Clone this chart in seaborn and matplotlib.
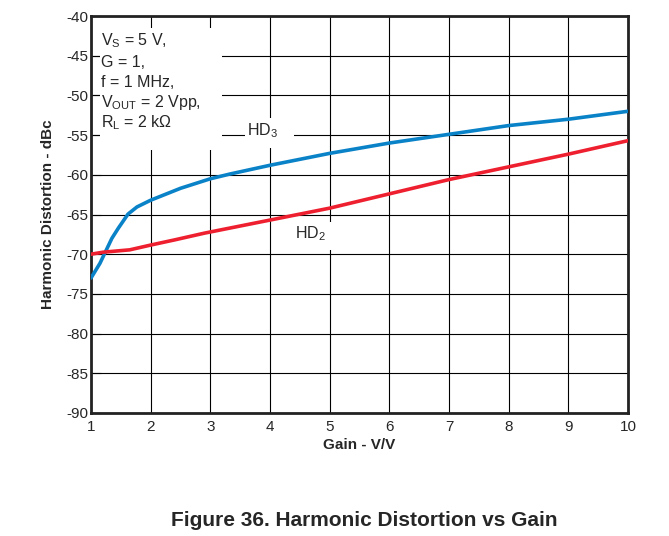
import matplotlib
matplotlib.use("Agg")
import matplotlib.pyplot as plt
import matplotlib.patches as mpatches
import seaborn as sns
import pandas as pd

# ---- data ----
gain_hd3 = [1.0, 1.15, 1.35, 1.46, 1.62, 1.77, 2.0, 2.5, 3.0, 3.33, 4.0, 5.0, 6.0, 7.0, 8.0, 9.0, 10.0]
hd3 = [-73.0, -71.15, -68.0, -66.7, -64.95, -64.05, -63.2, -61.7, -60.5, -59.9, -58.8, -57.3, -56.0, -54.9, -53.8, -53.0, -52.0]
gain_hd2 = [1.0, 1.2, 1.65, 2.0, 2.4, 2.9, 4.0, 5.0, 6.0, 7.0, 8.0, 9.0, 10.0]
hd2 = [-70.0, -69.75, -69.45, -68.85, -68.2, -67.35, -65.7, -64.2, -62.4, -60.6, -59.0, -57.4, -55.7]
x_ticks = [1, 2, 3, 4, 5, 6, 7, 8, 9, 10]
y_ticks = [-90, -85, -80, -75, -70, -65, -60, -55, -50, -45, -40]
cond_lines = [r"V$_{\mathregular{S}}$ = 5 V,", "G = 1,", "f = 1 MHz,",
              r"V$_{\mathregular{OUT}}$ = 2 Vpp,", r"R$_{\mathregular{L}}$ = 2 k$\mathregular{\Omega}$"]

sns.set_theme(style="white")
plt.rcParams['font.family'] = ['Liberation Sans', 'DejaVu Sans']
plt.rcParams['mathtext.fontset'] = 'custom'
plt.rcParams['mathtext.rm'] = 'Liberation Sans'
plt.rcParams['axes.unicode_minus'] = False

W, H = 669, 536
fig = plt.figure(figsize=(W / 100, H / 100), dpi=100)
x0, x1, y0, y1 = 91, 628, 16, 413
ax = fig.add_axes([x0 / W, 1 - y1 / H, (x1 - x0) / W, (y1 - y0) / H])

df3 = pd.DataFrame({"gain": gain_hd3, "val": hd3})
df2 = pd.DataFrame({"gain": gain_hd2, "val": hd2})
sns.lineplot(data=df3, x="gain", y="val", ax=ax, color="#0A82C8", lw=2.6, zorder=3)
sns.lineplot(data=df2, x="gain", y="val", ax=ax, color="#EE2030", lw=2.6, zorder=3)

ax.set_xlim(1, 10)
ax.set_ylim(-90, -40)
ax.set_xticks(x_ticks)
ax.set_yticks(y_ticks)
ax.set_xticklabels([str(t) for t in x_ticks], fontsize=11)
ax.set_yticklabels([str(t) for t in y_ticks], fontsize=11)
ax.grid(True, color="black", lw=0.8, zorder=0.5)
ax.set_axisbelow(True)
ax.tick_params(axis="y", direction="in", length=7, width=0.8, color="black", pad=2, left=True)
ax.tick_params(axis="x", length=0, pad=5)
for s in ax.spines.values():
    s.set_color("#222222")
    s.set_linewidth(2.0)

ax.set_xlabel("Gain - V/V", fontsize=11, fontweight="bold", labelpad=3)
ax.set_ylabel("Harmonic Distortion - dBc", fontsize=11, fontweight="bold", labelpad=8)


def px2ax(px, py):
    return (px - x0) / (x1 - x0), (y1 - py) / (y1 - y0)


# white box behind condition text
bx0, by0 = px2ax(100, 150)
bx1, by1 = px2ax(222, 28)
ax.add_patch(mpatches.Rectangle((bx0, by0), bx1 - bx0, by1 - by0, transform=ax.transAxes,
                                facecolor="white", edgecolor="none", zorder=1))
baselines = [45, 67, 87, 107, 127]
for txt, bl in zip(cond_lines, baselines):
    tx, ty = px2ax(101, bl)
    ax.text(tx, ty, txt, transform=ax.transAxes, fontsize=11.5, va="baseline", ha="left", zorder=4)

# curve labels
hx0, hy0 = px2ax(245, 148)
hx1, hy1 = px2ax(294, 118)
ax.add_patch(mpatches.Rectangle((hx0, hy0), hx1 - hx0, hy1 - hy0, transform=ax.transAxes,
                                facecolor="white", edgecolor="none", zorder=1))
tx, ty = px2ax(247, 135)
ax.text(tx, ty, r"HD$_{\mathregular{3}}$", transform=ax.transAxes, fontsize=11.5, va="baseline", ha="left", zorder=4)

hx0, hy0 = px2ax(292, 250)
hx1, hy1 = px2ax(332, 222)
ax.add_patch(mpatches.Rectangle((hx0, hy0), hx1 - hx0, hy1 - hy0, transform=ax.transAxes,
                                facecolor="white", edgecolor="none", zorder=1))
tx, ty = px2ax(295, 238)
ax.text(tx, ty, r"HD$_{\mathregular{2}}$", transform=ax.transAxes, fontsize=11.5, va="baseline", ha="left", zorder=4)

fig.text(364 / W, 1 - 521 / H, "Figure 36. Harmonic Distortion vs Gain", fontsize=15,
         fontweight="bold", ha="center", va="center")

fig.savefig("out.png", dpi=100, facecolor="white")
